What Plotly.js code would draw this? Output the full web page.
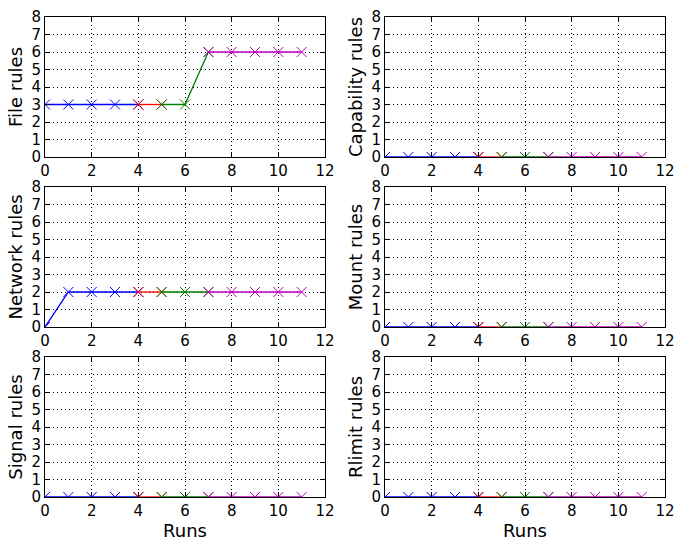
<!DOCTYPE html><html><head><script src="https://cdn.plot.ly/plotly-3.0.1.min.js"></script></head><body style="margin:0"><div id="c" style="width:685px;height:550px"></div><script>
const runs=[0,1,2,3,4,5,6,7,8,9,10,11];
const fileRules=[3,3,3,3,3,3,3,6,6,6,6,6];
const capRules=[0,0,0,0,0,0,0,0,0,0,0,0];
const netRules=[0,2,2,2,2,2,2,2,2,2,2,2];
const mountRules=[0,0,0,0,0,0,0,0,0,0,0,0];
const sigRules=[0,0,0,0,0,0,0,0,0,0,0,0];
const rlimRules=[0,0,0,0,0,0,0,0,0,0,0,0];
const titles=["File rules","Capability rules","Network rules","Mount rules","Signal rules","Rlimit rules"];
const series=[fileRules,capRules,netRules,mountRules,sigRules,rlimRules];
const segs=[[0,4,'#0000ff'],[4,5,'#ff0000'],[5,7,'#008000'],[7,11,'#bf00bf']];
const xd=[[45/685,325/685],[385/685,665/685]];
const yd=[[1-157/550,1-17/550],[1-327/550,1-187/550],[1-497/550,1-357/550]];
const traces=[];const layout={width:685,height:550,margin:{l:0,r:0,t:0,b:0},showlegend:false,paper_bgcolor:'white',plot_bgcolor:'white',font:{family:'DejaVu Sans',size:15,color:'black'}};
series.forEach((s,i)=>{const n=i+1;const ax=n===1?'':n;
 segs.forEach(([a,b,c])=>{traces.push({x:runs.slice(a,b+1),y:s.slice(a,b+1),xaxis:'x'+ax,yaxis:'y'+ax,mode:'lines+markers',cliponaxis:true,line:{color:c,width:1.3},marker:{symbol:'x-thin',size:10,line:{color:c,width:1}}});});
 const r=Math.floor(i/2),c=i%2;
 layout['xaxis'+ax]={domain:xd[c],anchor:'y'+ax,range:[0,12],dtick:2,showgrid:true,gridcolor:'black',griddash:'1px,3px',gridwidth:0.8,zeroline:false,showline:true,mirror:'ticks',linecolor:'black',ticks:'inside',ticklen:5,tickcolor:'black',title:r===2?{text:'Runs',standoff:2}:undefined};
 layout['yaxis'+ax]={domain:yd[r],anchor:'x'+ax,range:[0,8],dtick:1,showgrid:true,gridcolor:'black',griddash:'1px,3px',gridwidth:0.8,zeroline:false,showline:true,mirror:'ticks',linecolor:'black',ticks:'inside',ticklen:5,tickcolor:'black',title:{text:titles[i],standoff:4}};
});
Plotly.newPlot('c',traces,layout,{displayModeBar:false});
</script></body></html>
